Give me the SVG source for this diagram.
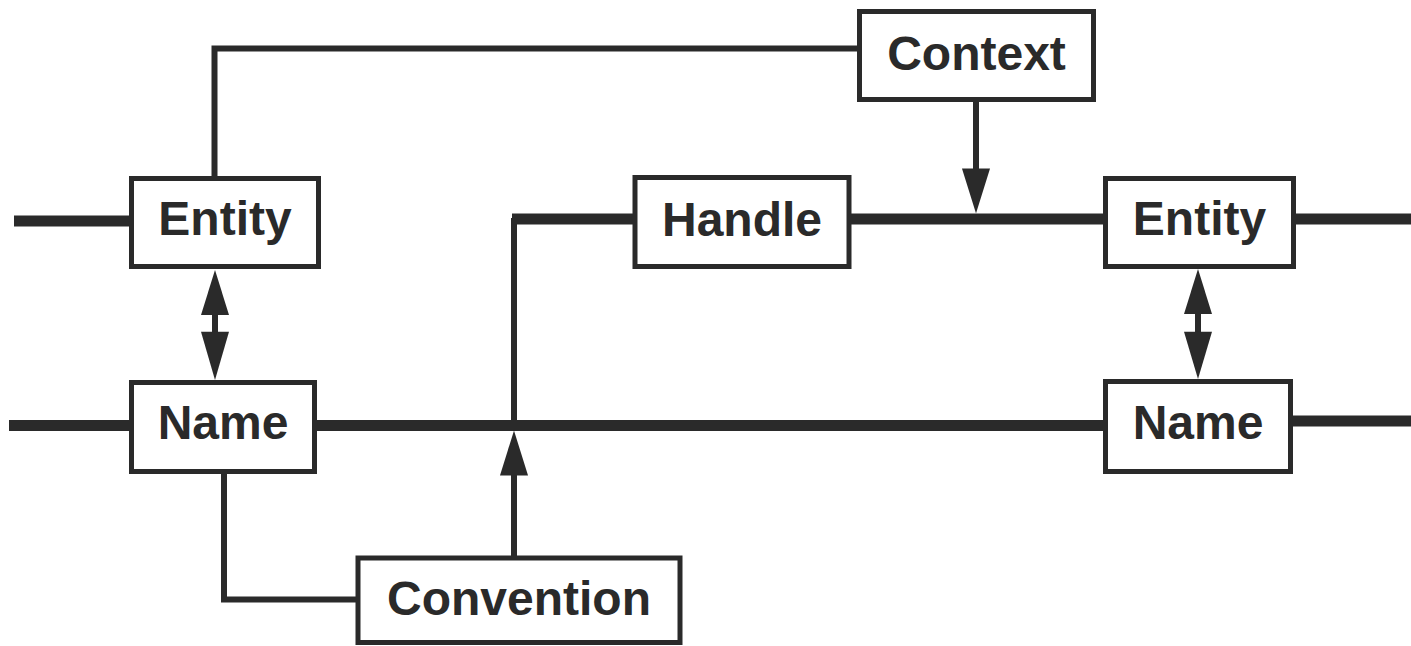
<svg xmlns="http://www.w3.org/2000/svg" width="1411" height="646" viewBox="0 0 1411 646">
  <style>
    .box { fill: #ffffff; stroke: #2a2a2a; stroke-width: 5; }
    .label { font-family: "Liberation Sans", Arial, sans-serif; font-weight: bold; font-size: 48px; fill: #2a2a2a; text-anchor: middle; }
    .thick { stroke: #2a2a2a; stroke-width: 11; fill: none; }
    .thin { stroke: #2a2a2a; stroke-width: 6; fill: none; }
    .head { fill: #2a2a2a; }
  </style>
  <defs>
    <!-- arrowhead pointing down, tip at origin -->
    <path id="headDown" class="head" d="M0,0 L-14,-45 L14,-45 Z"/>
  </defs>

  <g id="connectors">
    <!-- thick lines through the chain of entities -->
    <line class="thick" x1="14" y1="221" x2="131" y2="221"/>
    <path class="thick" d="M512,219 H636"/>
    <line class="thick" x1="850" y1="219" x2="1106" y2="219"/>
    <line class="thick" x1="1294" y1="219" x2="1411" y2="219"/>
    <line class="thick" x1="9" y1="425.5" x2="131" y2="425.5"/>
    <path class="thick" d="M315,425.5 H1106"/>
    <line class="thick" x1="1291" y1="421" x2="1411" y2="421"/>

    <!-- Entity to Context -->
    <path class="thin" d="M214.5,178 V48.5 H860"/>
    <!-- Context down to the Handle/Entity line -->
    <line class="thin" x1="976" y1="101" x2="976" y2="175"/>
    <use href="#headDown" transform="translate(976,213.5)"/>

    <!-- Handle line down to the Name line -->
    <line class="thin" x1="514" y1="218" x2="514" y2="425"/>

    <!-- Name to Convention -->
    <path class="thin" d="M224,467 V599.5 H358"/>
    <!-- Convention up to the Name line -->
    <line class="thin" x1="514" y1="557" x2="514" y2="470"/>
    <use href="#headDown" transform="translate(514,430.5) rotate(180)"/>

    <!-- Entity / Name double arrows -->
    <line class="thin" x1="215" y1="310" x2="215" y2="337"/>
    <use href="#headDown" transform="translate(215,270) rotate(180)"/>
    <use href="#headDown" transform="translate(215,380) translate(0,0) scale(1,1.07)"/>
    <line class="thin" x1="1198" y1="310" x2="1198" y2="337"/>
    <use href="#headDown" transform="translate(1198,269) rotate(180)"/>
    <use href="#headDown" transform="translate(1198,379) scale(1,1.05)"/>
  </g>

  <g id="entity-left">
    <rect class="box" x="131.5" y="178.5" width="187" height="88"/>
    <text class="label" x="225" y="235">Entity</text>
  </g>
  <g id="name-left">
    <rect class="box" x="131.5" y="382.5" width="183" height="89"/>
    <text class="label" x="223" y="439">Name</text>
  </g>
  <g id="context">
    <rect class="box" x="859.5" y="11.5" width="234" height="88"/>
    <text class="label" x="976.5" y="70">Context</text>
  </g>
  <g id="handle">
    <rect class="box" x="635" y="177.5" width="214" height="89"/>
    <text class="label" x="742" y="236">Handle</text>
  </g>
  <g id="entity-right">
    <rect class="box" x="1105.5" y="178.5" width="188" height="88"/>
    <text class="label" x="1199.5" y="235">Entity</text>
  </g>
  <g id="name-right">
    <rect class="box" x="1105.5" y="381.5" width="185" height="90"/>
    <text class="label" x="1198" y="439">Name</text>
  </g>
  <g id="convention">
    <rect class="box" x="358" y="558" width="322" height="84.5"/>
    <text class="label" x="519" y="615">Convention</text>
  </g>
</svg>
